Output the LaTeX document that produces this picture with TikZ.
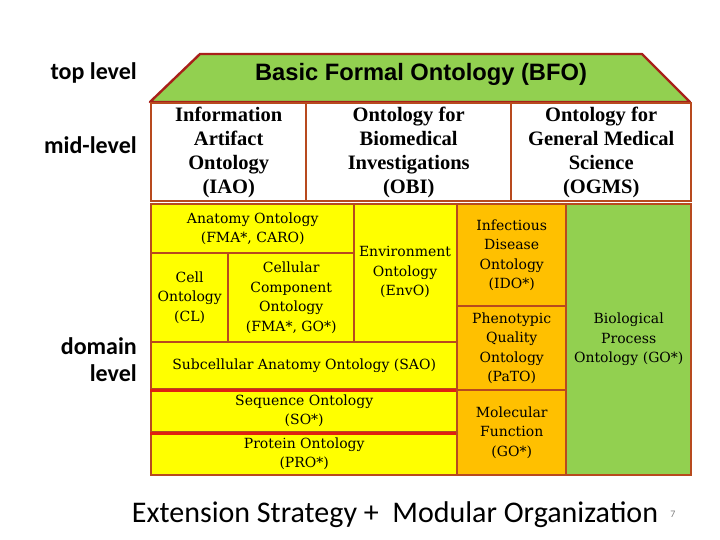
\documentclass[tikz,border=0pt]{standalone}
\usepackage{fontspec}
\setmainfont{Carlito}
\newfontfamily\midfont{Liberation Serif}
\newfontfamily\domfont{DejaVu Serif}
\newfontfamily\bfofont{Liberation Sans}
\definecolor{bord}{HTML}{B84A1E}
\definecolor{bfobord}{HTML}{A8201A}
\definecolor{grn}{HTML}{92D050}
\definecolor{yel}{HTML}{FFFF00}
\definecolor{org}{HTML}{FFC000}
\definecolor{redl}{HTML}{E02010}
\begin{document}
\begin{tikzpicture}[x=1pt,y=-1pt,
  lvl/.style={font=\fontsize{24}{27}\selectfont\bfseries, align=right, anchor=east, inner sep=0pt},
  midbox/.style={draw=bord, line width=2.4pt, fill=white, anchor=north west, inner sep=0pt,
    align=center, font=\midfont\bfseries\fontsize{20.5}{24}\selectfont},
  dombox/.style={draw=bord, line width=2.4pt, anchor=north west, inner sep=0pt,
    align=center, font=\domfont\fontsize{14}{19.5}\selectfont},
  txt/.style={inner sep=0pt, align=center}]
\useasboundingbox (0,0) rectangle (720,540);
% left labels
\node[lvl] (top) at (137,73) {top level};
\node[lvl] (mid) at (137,145) {mid-level};
\node[lvl] (dom) at (137,360) {domain\\level};
% BFO trapezoid
\draw[bfobord, line width=2.4pt, fill=grn, line join=round] (150,102) -- (200,54) -- (642,54) -- (690,102) -- cycle;
\node[txt, font=\bfofont\bfseries\fontsize{23.7}{28}\selectfont] (bfo) at (421,74) {Basic Formal Ontology (BFO)};
% mid-level
\node[midbox, minimum width=155pt, minimum height=98pt] (iao) at (150,102) {Information\\Artifact\\Ontology\\(IAO)};
\node[midbox, minimum width=205pt, minimum height=98pt] (obi) at (305,102) {Ontology for\\Biomedical\\Investigations\\(OBI)};
\node[midbox, minimum width=180pt, minimum height=98pt] (ogms) at (510,102) {Ontology for\\General Medical\\Science\\(OGMS)};
% domain: yellow
\node[dombox, fill=yel, minimum width=203pt, minimum height=49pt] (ana) at (150,203) {Anatomy Ontology\\(FMA*, CARO)};
\node[dombox, fill=yel, minimum width=77pt, minimum height=89pt] (cl) at (150,252) {Cell\\Ontology\\(CL)};
\node[dombox, fill=yel, minimum width=126pt, minimum height=89pt] (cc) at (227,252) {Cellular\\Component\\Ontology\\(FMA*, GO*)};
\node[dombox, fill=yel, minimum width=103pt, minimum height=138pt] (env) at (353,203) {};
\node[txt, font=\domfont\fontsize{14}{19.5}\selectfont] (envt) at (405,272) {Environment\\Ontology\\(EnvO)};
\node[dombox, fill=yel, minimum width=306pt, minimum height=47pt] (sao) at (150,341) {Subcellular Anatomy Ontology (SAO)};
\node[dombox, fill=yel, minimum width=306pt, minimum height=43pt] (so) at (150,388) {Sequence Ontology\\(SO*)};
\node[dombox, fill=yel, minimum width=306pt, minimum height=43pt] (pro) at (150,431) {Protein Ontology\\(PRO*)};
\draw[redl, line width=2.4pt] (sao.south west) -- (sao.south east);
\draw[redl, line width=2.4pt] (so.south west) -- (so.south east);
% orange
\node[dombox, fill=org, minimum width=109pt, minimum height=102pt] (ido) at (456,203) {Infectious\\Disease\\Ontology\\(IDO*)};
\node[dombox, fill=org, minimum width=109pt, minimum height=84pt] (pato) at (456,305) {Phenotypic\\Quality\\Ontology\\(PaTO)};
\node[dombox, fill=org, minimum width=109pt, minimum height=85pt] (mf) at (456,389) {Molecular\\Function\\(GO*)};
% green
\node[dombox, fill=grn, minimum width=125pt, minimum height=271pt] (bp) at (565,203) {Biological\\Process\\Ontology (GO*)};
% bottom title
\node[txt, font=\fontsize{30}{34}\selectfont, anchor=base] (title) at (395,522) {Extension Strategy +\ \ Modular Organization};
\node[txt, font=\fontsize{10}{12}\selectfont, text=gray, anchor=base] (pg) at (673,517) {7};
\end{tikzpicture}
\end{document}
